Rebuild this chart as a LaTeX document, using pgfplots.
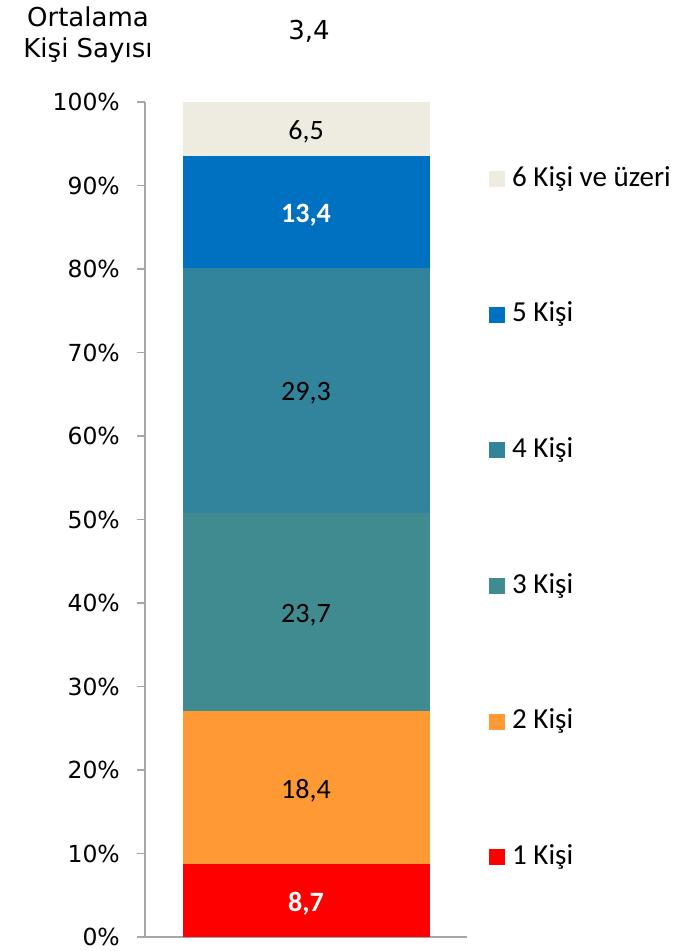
\documentclass[border=0pt]{standalone}
\usepackage{pgfplots}
\pgfplotsset{compat=1.18}
\usepackage{fontspec}
\setmainfont{Carlito}
\newfontfamily\dejavu{DejaVu Sans}
\definecolor{c1}{HTML}{FF0000}
\definecolor{c2}{HTML}{FF9933}
\definecolor{c3}{HTML}{3F8B8F}
\definecolor{c4}{HTML}{31849B}
\definecolor{c5}{HTML}{0070C0}
\definecolor{c6}{HTML}{EEECE1}
\definecolor{axgray}{HTML}{A6A6A6}
\pgfplotsset{
  geom/.style={at={(145pt,14pt)}, anchor=south west,
    scale only axis, width=322pt, height=835pt,
    xmin=-0.652, xmax=0.652, ymin=0, ymax=100},
}
\begin{document}
\begin{tikzpicture}[x=1pt,y=1pt]
\useasboundingbox (0,0) rectangle (687,951);
\node[font=\dejavu\fontsize{26}{31}\selectfont, align=center] at (88,916) {Ortalama\\Kişi Sayısı};
\node[font=\dejavu\fontsize{26}{31}\selectfont] at (309,920) {3,4};
\begin{axis}[
  geom,
  ybar stacked, bar width=247pt,
  axis x line*=bottom, axis y line*=left,
  axis line style={draw=axgray, line width=1.5pt},
  xtick=\empty, ytick={0,10,...,100},
  tick align=outside, major tick length=8pt,
  ytick style={draw=axgray, line width=1.5pt},
  /pgf/number format/assume math mode=true,
  yticklabel={\pgfmathprintnumber{\tick}\%},
  yticklabel style={font=\dejavu\fontsize{23.5}{23.5}\selectfont, inner sep=0pt, xshift=-17pt},
  legend cell align=left, reverse legend,
  legend image code/.code={\fill[#1] (0pt,-8pt) rectangle (16pt,8pt);},
  legend style={draw=none, fill=none, at={(1,1)}, anchor=north west,
    xshift=22pt, yshift=-64pt, inner sep=0pt,
    font=\fontsize{29}{29}\selectfont, row sep=109.6pt,
    nodes={inner sep=0pt, text height=20pt, text depth=6pt},
    /tikz/every odd column/.append style={column sep=7pt}},
]
\addplot[fill=c1, draw=none] coordinates {(0,8.7)};
\addlegendentry{1 Kişi}
\addplot[fill=c2, draw=none] coordinates {(0,18.4)};
\addlegendentry{2 Kişi}
\addplot[fill=c3, draw=none] coordinates {(0,23.7)};
\addlegendentry{3 Kişi}
\addplot[fill=c4, draw=none] coordinates {(0,29.3)};
\addlegendentry{4 Kişi}
\addplot[fill=c5, draw=none] coordinates {(0,13.4)};
\addlegendentry{5 Kişi}
\addplot[fill=c6, draw=none] coordinates {(0,6.5)};
\addlegendentry{6 Kişi ve üzeri}
\end{axis}
% segment labels, placed at the middle of each segment
\begin{axis}[
  geom, hide axis,
  /pgf/number format/assume math mode=true,
  point meta=explicit,
  nodes near coords={\pgfmathprintnumber[use comma,fixed,fixed zerofill,precision=1]{\pgfplotspointmeta}},
  every node near coord/.append style={anchor=center, yshift=-3pt, font=\fontsize{28}{28}\selectfont, text=black},
]
\addplot[draw=none, mark=none] coordinates {(0,17.9) [18.4] (0,38.95) [23.7] (0,65.45) [29.3] (0,96.75) [6.5]};
\addplot[draw=none, mark=none, every node near coord/.append style={text=white, font=\bfseries\fontsize{28}{28}\selectfont}] coordinates {(0,4.35) [8.7] (0,86.8) [13.4]};
\end{axis}
\end{tikzpicture}
\end{document}
